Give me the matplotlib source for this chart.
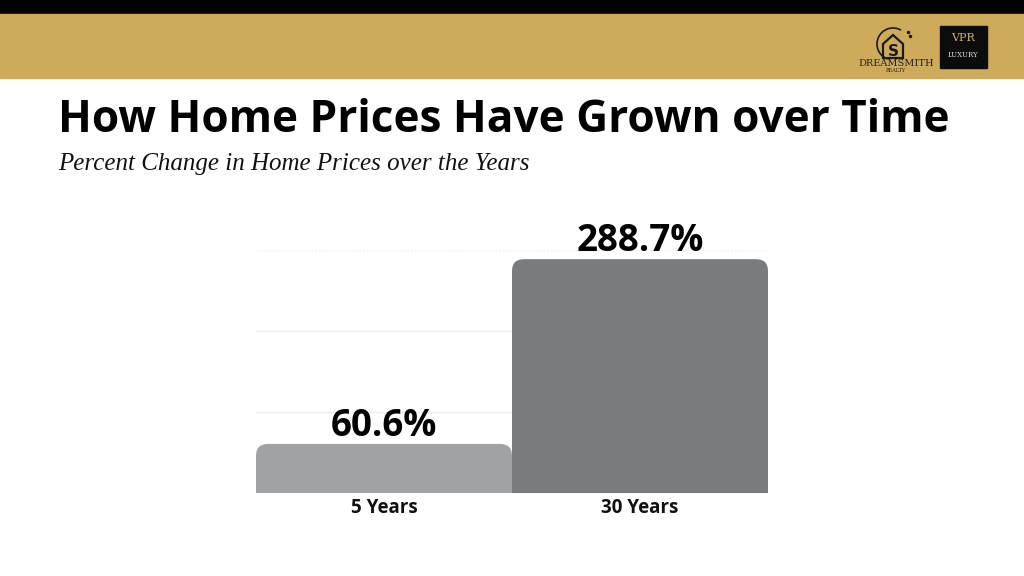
import matplotlib.pyplot as plt
import numpy as np
from matplotlib.patches import Rectangle, PathPatch, Arc, Polygon
from matplotlib.path import Path

categories = ["5 Years", "30 Years"]
values = [60.6, 288.7]
labels = ["60.6%", "288.7%"]
bar_colors = ["#a0a3a4", "#797c7f"]

GOLD = "#ceab5b"

fig = plt.figure(figsize=(10.24, 5.76), dpi=100)
fig.patch.set_facecolor("white")

def fx(px):
    return px / 1024

def fy(py):
    return 1 - py / 576

# header bands
fig.add_artist(Rectangle((0, fy(14)), 1, 14 / 576, transform=fig.transFigure,
                         color="black", zorder=0))
fig.add_artist(Rectangle((0, fy(78)), 1, 64 / 576, transform=fig.transFigure,
                         color=GOLD, zorder=0))

# logos (rough stand-ins)
lax = fig.add_axes([fx(870), fy(60), 50 / 1024, 36 / 576])
lax.set_xlim(0, 50)
lax.set_ylim(0, 36)
lax.axis("off")
lax.add_patch(Arc((23, 16), 32, 32, theta1=60, theta2=250, color="#1a1a1a", lw=1.2))
lax.add_patch(Polygon([(13, 2), (13, 16), (23, 25), (33, 16), (33, 2)], closed=True,
                      fill=False, ec="#1a1a1a", lw=1.6))
lax.text(23, 9, "S", ha="center", va="center", fontsize=11, weight="bold",
         color="#1a1a1a")
lax.plot([38, 40], [28, 24], "o", ms=1.5, color="#1a1a1a")
fig.text(fx(896), fy(64), "DREAMSMITH", fontsize=7, color="#222222",
         ha="center", va="center", family="DejaVu Serif")
fig.text(fx(896), fy(71), "REALTY", fontsize=3.5, color="#222222",
         ha="center", va="center", family="DejaVu Serif")
fig.add_artist(Rectangle((fx(940), fy(68)), 47 / 1024, 42 / 576,
                         transform=fig.transFigure, color="#0c0c0c", zorder=1))
fig.text(fx(963), fy(38), "VPR", fontsize=8, color="#c9b27a",
         ha="center", va="center", family="DejaVu Serif", zorder=2)
fig.text(fx(963), fy(55), "LUXURY", fontsize=5, color="#dddddd",
         ha="center", va="center", family="DejaVu Serif", zorder=2)

# titles
fig.text(fx(58), fy(120), "How Home Prices Have Grown over Time",
         fontsize=31.8, weight="bold", family="Open Sans", color="black",
         ha="left", va="center")
fig.text(fx(58), fy(164), "Percent Change in Home Prices over the Years",
         fontsize=18, style="italic", family="Liberation Serif", color="#111111",
         ha="left", va="center")

# chart axes
ax = fig.add_axes([fx(256), fy(493), 512 / 1024, 243 / 576])
ax.set_xlim(-0.5, 1.5)
ax.set_ylim(0, 300)
for s in ax.spines.values():
    s.set_visible(False)
ax.set_xticks([])
ax.set_yticks([])
for g in [0, 100, 200]:
    ax.axhline(g, color="#eeeeee", lw=1, zorder=0)
ax.axhline(300, color="#eeeeee", lw=1, ls=":", zorder=0)

bars = ax.bar(range(len(categories)), values, width=1.0, color=bar_colors)

# swap plain bars for ones with rounded top corners
rx = 12 / 256
ry = 12 / 243 * 300
for b in bars:
    x0, w, h = b.get_x(), b.get_width(), b.get_height()
    x1 = x0 + w
    verts = [(x0, 0), (x0, h - ry), (x0, h), (x0 + rx, h), (x1 - rx, h),
             (x1, h), (x1, h - ry), (x1, 0), (x0, 0)]
    codes = [Path.MOVETO, Path.LINETO, Path.CURVE3, Path.CURVE3, Path.LINETO,
             Path.CURVE3, Path.CURVE3, Path.LINETO, Path.CLOSEPOLY]
    ax.add_patch(PathPatch(Path(verts, codes), facecolor=b.get_facecolor(),
                           edgecolor="none", zorder=2))
    b.set_visible(False)

for i, (v, lab) in enumerate(zip(values, labels)):
    ax.text(i, v - 1, lab, ha="center", va="bottom", fontsize=26.5, weight="bold",
            family="Open Sans", color="black", clip_on=False)
    ax.text(i, -6, categories[i], ha="center", va="top", fontsize=13.5, weight="bold",
            family="Open Sans", color="#111111", clip_on=False)

fig.savefig("out.png", dpi=100)
